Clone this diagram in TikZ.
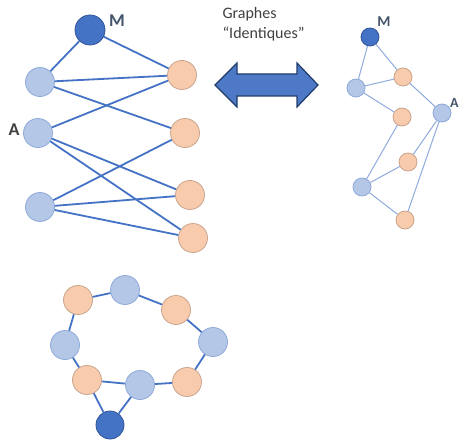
\documentclass[tikz,border=0pt]{standalone}
\usepackage{fontspec}
\setmainfont{Carlito}

\definecolor{bleuclair}{HTML}{B4C7E7}
\definecolor{bleubord}{HTML}{8EA9DB}
\definecolor{peche}{HTML}{F8CBAD}
\definecolor{pechebord}{HTML}{C9A48C}
\definecolor{fonce}{HTML}{4472C4}
\definecolor{foncebord}{HTML}{2F5597}
\definecolor{trait}{HTML}{4472C4}
\definecolor{traitclair}{HTML}{8FAADC}
\definecolor{lettre}{HTML}{44546A}

\tikzset{
  bl/.style={circle,draw=bleubord,fill=bleuclair,line width=0.8pt,minimum size=29pt,inner sep=0pt},
  pe/.style={circle,draw=pechebord,fill=peche,line width=0.8pt,minimum size=29pt,inner sep=0pt},
  fo/.style={circle,draw=foncebord,fill=fonce,line width=0.8pt,minimum size=30pt,inner sep=0pt},
  petit/.style={minimum size=18pt},
  arete/.style={trait,line width=1.8pt},
  aretefine/.style={traitclair,line width=1pt},
  lettreM/.style={font=\bfseries\fontsize{18}{18}\selectfont,text=lettre,inner sep=0pt}
}

\begin{document}
\begin{tikzpicture}[x=1pt,y=-1pt]
\useasboundingbox (0,0) rectangle (460,441);

% graphe gauche
\node [fo] (m) at (90,30) {};
\node [bl] (l1) at (40,82) {};
\node [bl] (a) at (38,133) {};
\node [bl] (l3) at (40,207) {};
\node [pe] (r1) at (182,75) {};
\node [pe] (r2) at (185,133) {};
\node [pe] (r3) at (190,195) {};
\node [pe] (r4) at (193,238) {};

\draw [arete] (m)--(l1);
\draw [arete] (m)--(r1);
\draw [arete] (l1)--(r1);
\draw [arete] (l1)--(r2);
\draw [arete] (a)--(r1);
\draw [arete] (a)--(r3);
\draw [arete] (a)--(r4);
\draw [arete] (l3)--(r2);
\draw [arete] (l3)--(r3);
\draw [arete] (l3)--(r4);

\node [lettreM] (tm) at (117,21) {M};
\node [lettreM,text=black!75] (ta) at (14,130) {A};

% fleche double
\draw [fill=fonce!95!white,draw=foncebord!70!black,line width=1.2pt,line join=miter]
  (215,85)--(237,63)--(237,74)--(297,74)--(297,63)--(318,85)
  --(297,107)--(297,96)--(237,96)--(237,107)--cycle;
\node [align=left,anchor=west,font=\fontsize{16}{20}\selectfont,text=black!75] (titre) at (219,24)
  {Graphes\\``Identiques''};

% graphe droite
\node [fo,petit] (mm) at (370,37) {};
\node [pe,petit] (o1) at (403,77) {};
\node [bl,petit] (b1) at (356,88) {};
\node [pe,petit] (o2) at (402,117) {};
\node [bl,petit] (aa) at (442,113) {};
\node [pe,petit] (o3) at (408,162) {};
\node [bl,petit] (b2) at (362,187) {};
\node [pe,petit] (o4) at (405,220) {};

\draw [aretefine] (mm)--(b1);
\draw [aretefine] (mm)--(o1);
\draw [aretefine] (b1)--(o1);
\draw [aretefine] (b1)--(o2);
\draw [aretefine] (o1)--(aa);
\draw [aretefine] (o2)--(b2);
\draw [aretefine] (b2)--(o3);
\draw [aretefine] (b2)--(o4);
\draw [aretefine] (aa)--(o3);
\draw [aretefine] (aa)--(o4);

\node [lettreM,font=\bfseries\fontsize{15}{15}\selectfont] (tmm) at (384,22) {M};
\node [lettreM,font=\bfseries\fontsize{14}{14}\selectfont,anchor=west] (taa) at (450,103) {A};

% cycle en bas
\node [pe] (c1) at (78,300) {};
\node [bl] (c2) at (125,290) {};
\node [pe] (c3) at (176,310) {};
\node [bl] (c4) at (213,342) {};
\node [pe] (c5) at (187,382) {};
\node [bl] (c6) at (140,385) {};
\node [pe] (c7) at (87,380) {};
\node [bl] (c8) at (65,345) {};
\node [fo,minimum size=28pt] (mb) at (110,425) {};

\draw [arete] (c1)--(c2);
\draw [arete] (c2)--(c3);
\draw [arete] (c3)--(c4);
\draw [arete] (c4)--(c5);
\draw [arete] (c5)--(c6);
\draw [arete] (c6)--(c7);
\draw [arete] (c7)--(c8);
\draw [arete] (c8)--(c1);
\draw [arete] (c7)--(mb);
\draw [arete] (c6)--(mb);
\end{tikzpicture}
\end{document}
